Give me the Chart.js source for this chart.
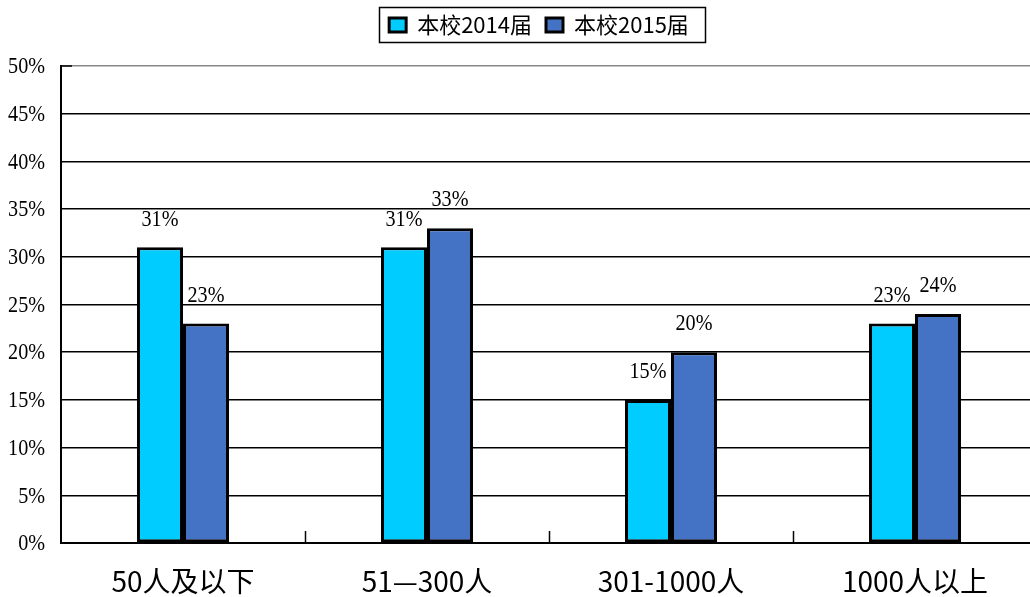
<!DOCTYPE html>
<html>
<head>
<meta charset="utf-8">
<script src="https://cdn.jsdelivr.net/npm/chart.js@4"></script>
<style>
  html, body { margin: 0; background: #fff; overflow: hidden; }
  /* プロット右端は画面の外まで続いているので少し広めに取る */
  #wrap { width: 1037px; height: 597px; }
</style>
</head>
<body>
<div id="wrap"><canvas id="c"></canvas></div>
<script>
// データ
var categories = ["50人及以下", "51—300人", "301-1000人", "1000人以上"];
var seriesNames = ["本校2014届", "本校2015届"];
var values2014 = [31, 31, 15, 23];
var values2015 = [23, 33, 20, 24];
var yMin = 0, yMax = 50, yStep = 5;

var SERIF = '24px "Liberation Serif", serif';

// 宋体っぽく横に詰めて描く
function narrowText(ctx, txt, x, y, align) {
  ctx.save();
  ctx.translate(x, y);
  ctx.scale(0.84, 1);
  ctx.textAlign = align;
  ctx.fillText(txt, 0, 0);
  ctx.restore();
}

// 棒の上の数値 + 目盛ラベル + x軸の内向き目盛 + 凡例の枠
var decorPlugin = {
  id: "decor",
  beforeLayout: function (chart) {
    var lg = chart.legend;
    if (lg && !lg._tall) { // 凡例の下に余白を取ってプロット上端を下げる
      var fit = lg.fit;
      lg.fit = function () { fit.call(this); this.height = 66; };
      lg._tall = true;
    }
  },
  afterLayout: function (chart) {
    var lg = chart.legend;
    if (!lg) return;
    var shift = 539 - (lg.left + lg.right) / 2;
    lg.left += shift;
    lg.right += shift;
  },
  afterDatasetsDraw: function (chart) {
    var ctx = chart.ctx;
    var xs = chart.scales.x, ys = chart.scales.y;
    ctx.save();
    ctx.font = SERIF;
    ctx.fillStyle = "#000";
    ctx.textBaseline = "middle";
    chart.data.datasets.forEach(function (ds, di) {
      chart.getDatasetMeta(di).data.forEach(function (bar, i) {
        narrowText(ctx, ds.data[i] + "%", bar.x, bar.y - 28, "center");
      });
    });
    ys.ticks.forEach(function (t) {
      narrowText(ctx, t.value + "%", ys.right - 16, ys.getPixelForValue(t.value) + 1, "right");
    });
    // x axis inner ticks at category boundaries
    var w = (xs.right - xs.left) / categories.length;
    ctx.strokeStyle = "#000";
    ctx.lineWidth = 1.5;
    for (var k = 1; k < categories.length; k++) {
      var px = Math.round(xs.left + w * k) + 0.5;
      ctx.beginPath();
      ctx.moveTo(px, ys.bottom);
      ctx.lineTo(px, ys.bottom - 12);
      ctx.stroke();
    }
    ctx.beginPath();
    ctx.moveTo(ys.right, ys.top);
    ctx.lineTo(ys.right + 11, ys.top);
    ctx.stroke();
    ctx.restore();
  },
  afterDraw: function (chart) {
    var boxes = chart.legend && chart.legend.legendHitBoxes;
    if (!boxes || !boxes.length) return;
    var l = Infinity, r = -Infinity;
    boxes.forEach(function (h) {
      l = Math.min(l, h.left);
      r = Math.max(r, h.left + h.width);
    });
    var ctx = chart.ctx;
    ctx.save();
    ctx.strokeStyle = "#000";
    ctx.lineWidth = 1.5;
    ctx.strokeRect(Math.round(l - 10) + 0.5, 7.5, Math.round(r - l + 26), 35);
    ctx.restore();
  }
};

new Chart(document.getElementById("c"), {
  type: "bar",
  data: {
    labels: categories,
    datasets: [
      { label: seriesNames[0], data: values2014, backgroundColor: "#00CCFF",
        borderColor: "#000", borderWidth: 3, borderSkipped: false },
      { label: seriesNames[1], data: values2015, backgroundColor: "#4472C4",
        borderColor: "#000", borderWidth: 3, borderSkipped: false }
    ]
  },
  options: {
    responsive: true,
    maintainAspectRatio: false,
    animation: false,
    layout: { padding: 0 },
    datasets: { bar: { categoryPercentage: 0.377, barPercentage: 1 } },
    plugins: {
      tooltip: { enabled: false },
      legend: {
        position: "top",
        labels: {
          color: "#000",
          font: { family: '"Noto Sans CJK SC", sans-serif', size: 22 },
          boxWidth: 17, boxHeight: 14, padding: 14
        }
      }
    },
    scales: {
      x: {
        grid: { display: false },
        border: { display: true, color: "#000", width: 2 },
        ticks: {
          color: "#000", padding: 14,
          font: { family: '"Noto Sans CJK SC", sans-serif', size: 28 }
        },
        afterFit: function (s) { s.height = 54; }
      },
      y: {
        min: yMin, max: yMax,
        grid: {
          color: function (c) { return c.tick && c.tick.value === yMax ? "#888" : "#000"; },
          lineWidth: 1.5, drawTicks: false
        },
        border: { display: true, color: "#000", width: 2 },
        ticks: { stepSize: yStep, display: false },
        afterFit: function (s) { s.width = 61; }
      }
    }
  },
  plugins: [decorPlugin]
});
</script>
</body>
</html>
